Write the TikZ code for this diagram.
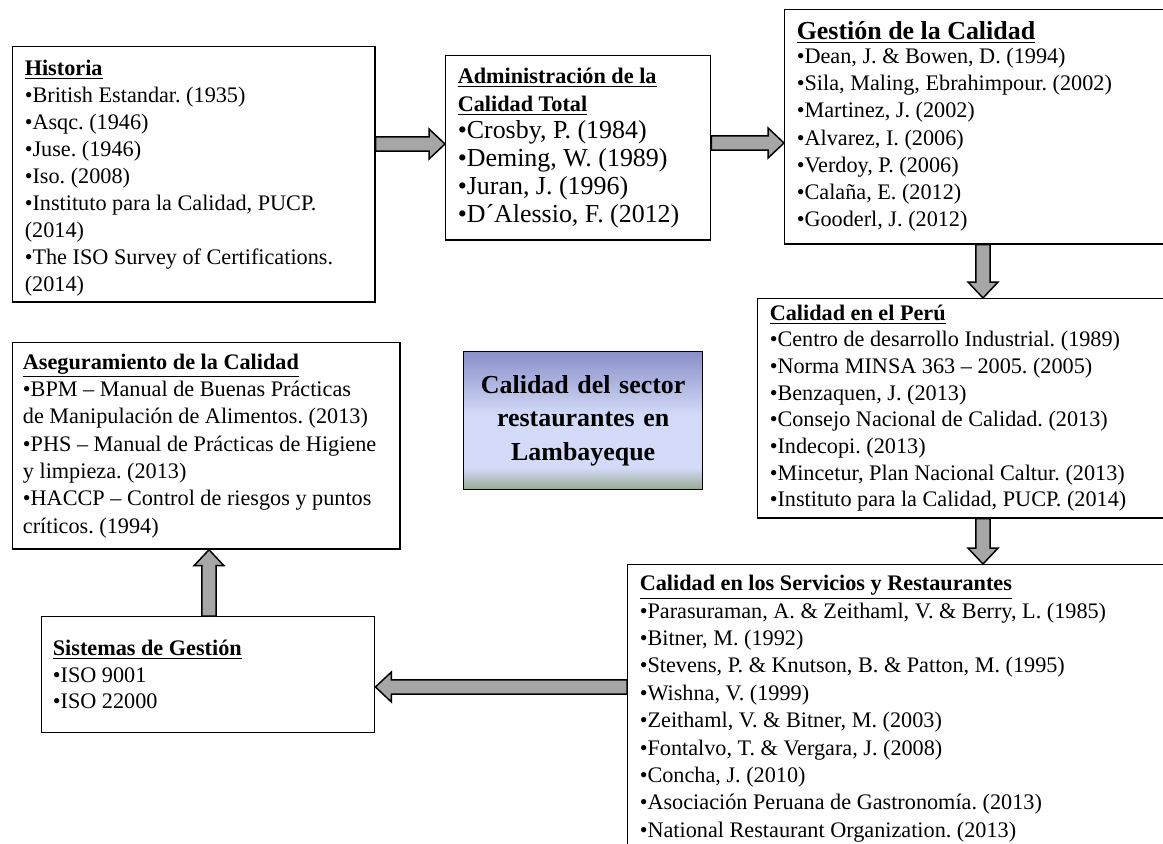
\documentclass[tikz,border=0pt]{standalone}
\usepackage{fontspec}
\setmainfont{Liberation Serif}
\usetikzlibrary{positioning,calc}
\frenchspacing

\definecolor{grisflecha}{HTML}{A6A6A6}
\definecolor{azulcaja}{HTML}{8A8FC8}
\definecolor{lilacaja}{HTML}{D3DBF8}
\definecolor{verdecaja}{HTML}{97A98D}
\pgfdeclareverticalshading{fondocentro}{100bp}{color(0bp)=(verdecaja); color(25bp)=(verdecaja); color(33bp)=(lilacaja); color(52bp)=(lilacaja); color(75bp)=(azulcaja); color(100bp)=(azulcaja)}

\newcommand{\titulo}[1]{\underline{\textbf{#1}}}

% flecha gruesa de #1 a #2
\newcommand{\flechagruesa}[2]{%
  \draw[flecha] let \p1=(#1), \p2=(#2),
      \n1={veclen(\x2-\x1,\y2-\y1)}, \n2={(\x2-\x1)/\n1}, \n3={(\y2-\y1)/\n1} in
    ({\x1+3.8*\n3},{\y1-3.8*\n2})
    -- ({\x1+(\n1-8.6)*\n2+3.8*\n3},{\y1+(\n1-8.6)*\n3-3.8*\n2})
    -- ({\x1+(\n1-8.6)*\n2+8.1*\n3},{\y1+(\n1-8.6)*\n3-8.1*\n2})
    -- (\x2,\y2)
    -- ({\x1+(\n1-8.6)*\n2-8.1*\n3},{\y1+(\n1-8.6)*\n3+8.1*\n2})
    -- ({\x1+(\n1-8.6)*\n2-3.8*\n3},{\y1+(\n1-8.6)*\n3+3.8*\n2})
    -- ({\x1-3.8*\n3},{\y1+3.8*\n2}) -- cycle;}

\begin{document}
\begin{tikzpicture}[x=0.54pt,y=-0.54pt,
  caja/.style={draw, line width=0.8pt, anchor=north west, align=flush left, inner xsep=6.5pt, inner ysep=3pt, font=\fontsize{12}{14}\selectfont},
  flecha/.style={draw=black, fill=grisflecha, line width=0.8pt, line join=miter}]
\useasboundingbox (0,0) rectangle (1163,844);

% cajas de arriba
\node[caja, text width=182.5pt, minimum height=132.8pt, font=\fontsize{12}{14.6}\selectfont] (hist) at (12,46) {\rule{0pt}{12.5pt}\titulo{Historia}\\
•British Estandar. (1935)\\
•Asqc. (1946)\\
•Juse. (1946)\\
•Iso. (2008)\\
•Instituto para la Calidad, PUCP.\\
(2014)\\
•The ISO Survey of Certifications.\\
(2014)};

\node[caja, text width=130pt, minimum height=99.4pt, font=\fontsize{14}{15}\selectfont] (admin) at (445,55) {{\fontsize{12}{14}\selectfont\titulo{Administración de la}}\\
{\fontsize{12}{14}\selectfont\titulo{Calidad Total}}\\
•Crosby, P. (1984)\\
•Deming, W. (1989)\\
•Juran, J. (1996)\\
•D´Alessio, F. (2012)};

\node[caja, text width=211.6pt, minimum height=126.4pt, font=\fontsize{12}{14.7}\selectfont] (gest) at (784,9) {{\fontsize{14}{16}\selectfont\titulo{Gestión de la Calidad}}\\[-2pt]
•Dean, J. \& Bowen, D. (1994)\\
•Sila, Maling, Ebrahimpour. (2002)\\
•Martinez, J. (2002)\\
•Alvarez, I. (2006)\\
•Verdoy, P. (2006)\\
•Calaña, E. (2012)\\
•Gooderl, J. (2012)};

% cajas del medio
\node[caja, text width=226pt, minimum height=118.3pt, font=\fontsize{12}{14.4}\selectfont] (peru) at (757,298) {\titulo{Calidad en el Perú}\\
•Centro de desarrollo Industrial. (1989)\\
•Norma MINSA 363 – 2005. (2005)\\
•Benzaquen, J. (2013)\\
•Consejo Nacional de Calidad. (2013)\\
•Indecopi. (2013)\\
•Mincetur, Plan Nacional Caltur. (2013)\\
•Instituto para la Calidad, PUCP. (2014)};

\node[caja, shading=fondocentro, align=center, text width=116pt, minimum height=74.5pt, font=\fontsize{14}{18}\selectfont\bfseries] (centro) at (463,351) {Calidad del sector\\restaurantes en\\Lambayeque};

\node[caja, inner xsep=5.5pt, text width=198pt, minimum height=111.4pt, font=\fontsize{12}{14.75}\selectfont] (aseg) at (12,342) {\titulo{Aseguramiento de la Calidad}\\
•BPM – Manual de Buenas Prácticas\\
de Manipulación de Alimentos. (2013)\\
•PHS – Manual de Prácticas de Higiene\\
y limpieza. (2013)\\
•HACCP – Control de riesgos y puntos\\
críticos. (1994)};

% cajas de abajo
\node[caja, inner xsep=6pt, text width=167.8pt, minimum height=62.6pt, font=\fontsize{12}{14.3}\selectfont] (sist) at (41,616) {\titulo{Sistemas de Gestión}\\
•ISO 9001\\
•ISO 22000};

\node[caja, text width=296pt, font=\fontsize{12}{14.8}\selectfont] (serv) at (627,564) {\rule{0pt}{11pt}\titulo{Calidad en los Servicios y Restaurantes}\\
•Parasuraman, A. \& Zeithaml, V. \& Berry, L. (1985)\\
•Bitner, M. (1992)\\
•Stevens, P. \& Knutson, B. \& Patton, M. (1995)\\
•Wishna, V. (1999)\\
•Zeithaml, V. \& Bitner, M. (2003)\\
•Fontalvo, T. \& Vergara, J. (2008)\\
•Concha, J. (2010)\\
•Asociación Peruana de Gastronomía. (2013)\\
•National Restaurant Organization. (2013)\\
\mbox{}\\
\mbox{}};

% flechas
\flechagruesa{hist.east |- 0,144}{admin.west |- 0,144}
\flechagruesa{admin.east |- 0,143}{gest.west |- 0,143}
\flechagruesa{gest.south -| 983,0}{peru.north -| 983,0}
\flechagruesa{peru.south -| 983,0}{serv.north -| 983,0}
\flechagruesa{serv.west |- 0,687}{sist.east |- 0,687}
\flechagruesa{sist.north -| 209,0}{aseg.south -| 209,0}
\end{tikzpicture}
\end{document}
